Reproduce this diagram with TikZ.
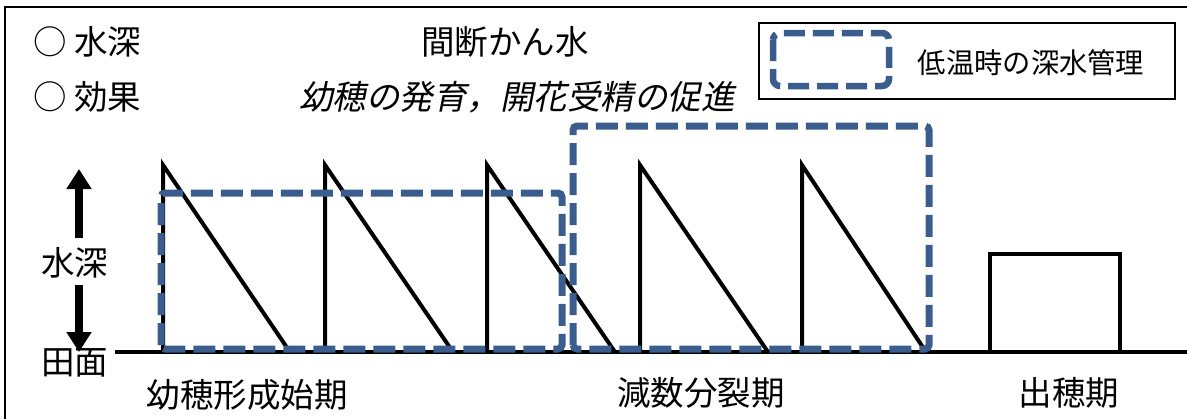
\documentclass[tikz,border=0pt]{standalone}
\usepackage{fontspec}
\setmainfont{Noto Sans CJK JP}
\newfontfamily\jpit[FakeSlant=0.2]{Noto Sans CJK JP}
\usetikzlibrary{arrows.meta}
\definecolor{dblue}{HTML}{3A5D8E}
\begin{document}
\begin{tikzpicture}[x=1pt,y=-1pt,
  lbl/.style={font=\fontsize{33.5}{40}\selectfont, inner sep=0pt},
  leglbl/.style={font=\fontsize{28.3}{34}\selectfont, inner sep=0pt},
  wave/.style={line width=4pt, line join=miter, miter limit=30},
  deep/.style={draw=dblue, line width=7pt, dash pattern=on 22pt off 8pt, rounded corners=4pt},
  bigarrow/.style={line width=8pt, -{Triangle[width=24pt,length=20pt]}}]
\useasboundingbox (0,0) rectangle (1187,418);
% outer frame
\draw[line width=2pt] (5,7) rectangle (1210,440);
% header texts
\node[lbl, anchor=west] (h1) at (33,42) {○ 水深};
\node[lbl, anchor=west] (h2) at (33,97) {○ 効果};
\node[lbl] (mode) at (505,42) {間断かん水};
\node[lbl, font=\fontsize{33.5}{40}\selectfont\jpit] (eff) at (517,97) {幼穂の発育，開花受精の促進};
% legend
\draw[line width=1.5pt] (759,23) rectangle (1175,99);
\draw[deep, line width=6.5pt, dash pattern=on 21pt off 8pt, rounded corners=7pt] (773,33) rectangle (889,86);
\node[leglbl] (legtxt) at (1031,63) {低温時の深水管理};
% axis labels and arrows
\node[lbl] (depth) at (75,263) {水深};
\node[lbl] (field) at (75,363) {田面};
\coordinate (upS) at (79,238);
\coordinate (upT) at (79,169);
\coordinate (dnS) at (79,285);
\coordinate (dnT) at (79,352);
\draw[bigarrow] (upS) -- (upT);
\draw[bigarrow] (dnS) -- (dnT);
% ground line
\coordinate (g0) at (115,352);
\coordinate (g1) at (1190,352);
\draw[line width=4pt] (g0) -- (g1);
% sawtooth water levels
\foreach \x/\w in {163/127, 325/128, 487/128, 640/128, 802/124}{
  \draw[wave] (\x,352) -- (\x,165) -- (\x+\w,352);
}
% heading stage flooding
\draw[line width=4pt] (990,352) -- (990,254) -- (1120,254) -- (1120,352);
% deep water boxes
\draw[deep] (161,349) rectangle (562,193);
\draw[deep] (573,349) rectangle (929,126);
% stage labels
\node[lbl] (s1) at (247,395) {幼穂形成始期};
\node[lbl] (s2) at (701,393) {減数分裂期};
\node[lbl] (s3) at (1069,393) {出穂期};
\end{tikzpicture}
\end{document}
